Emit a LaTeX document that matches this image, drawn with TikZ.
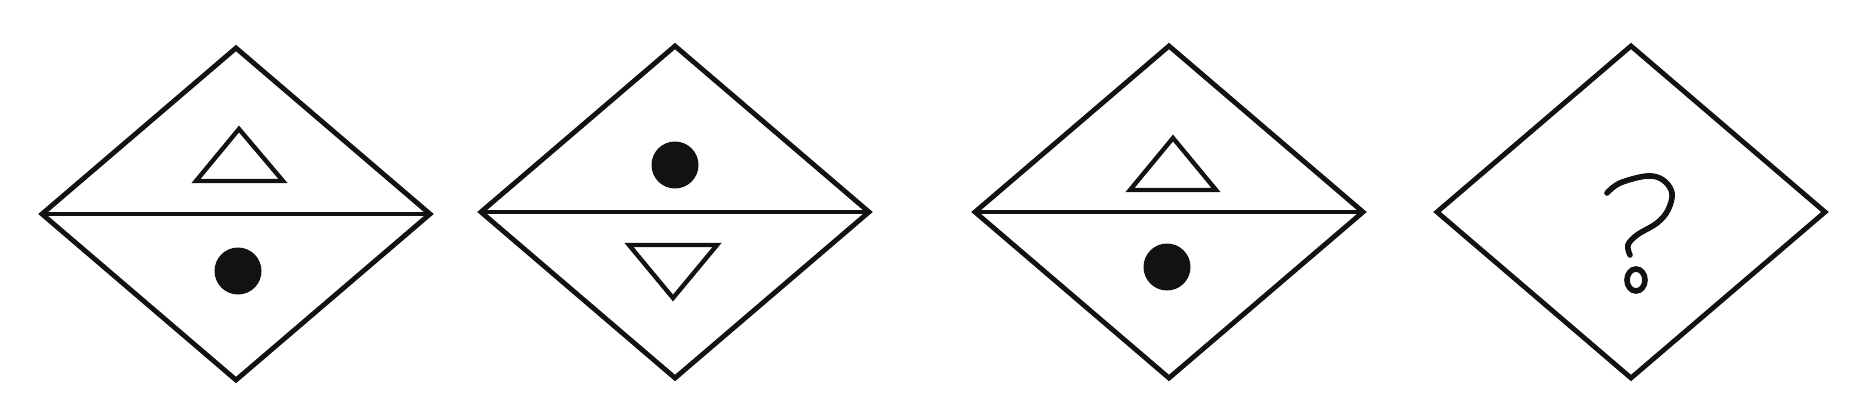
\documentclass[tikz,border=0pt]{standalone}
\usetikzlibrary{calc}
\definecolor{ink}{HTML}{121212}

\begin{document}
\begin{tikzpicture}
\tikzset{
  frame/.style={draw=ink,line width=1.4pt,line join=miter},
  figline/.style={draw=ink,line width=1.25pt,line join=miter},
  blob/.style={fill=ink},
  qline/.style={draw=ink,line width=1.6pt,line cap=round}
}
\useasboundingbox (0,0) rectangle (18.64,4.12);

% outer diamonds
\foreach \cx/\cy in {2.36/1.98,6.75/2.00,11.69/2.00,16.31/2.00}{
  \draw[frame] (\cx-1.94,\cy) -- (\cx,\cy+1.66) -- (\cx+1.94,\cy)
    -- (\cx,\cy-1.66) -- cycle;
}
% dividing lines
\foreach \cx/\cy in {2.36/1.98,6.75/2.00,11.69/2.00}{
  \draw[frame] (\cx-1.94,\cy) -- (\cx+1.94,\cy);
}

\begin{scope}[shift={(2.36,1.98)}]
  \draw[figline] (-0.40,0.33) -- (0.03,0.85) -- (0.47,0.33) -- cycle;
  \fill[blob] (0.02,-0.57) circle (0.235);
\end{scope}

\begin{scope}[shift={(6.75,2.00)}]
  \fill[blob] (0,0.47) circle (0.235);
  \draw[figline] (-0.46,-0.33) -- (0.42,-0.33) -- (-0.02,-0.86) -- cycle;
\end{scope}

\begin{scope}[shift={(11.69,2.00)}]
  \draw[figline] (-0.39,0.22) -- (0.04,0.74) -- (0.47,0.22) -- cycle;
  \fill[blob] (-0.02,-0.55) circle (0.235);
\end{scope}

\begin{scope}[shift={(16.31,2.00)}]
  \draw[qline] plot[smooth,tension=0.6] coordinates {(-0.24,0.19) (-0.11,0.29)
    (0.16,0.36) (0.32,0.32) (0.41,0.19) (0.37,0.02) (0.26,-0.11)
    (0.06,-0.23) (-0.03,-0.33) (-0.01,-0.43)};
  \draw[qline] (0.05,-0.68) ellipse (0.09 and 0.11);
\end{scope}

\end{tikzpicture}
\end{document}
